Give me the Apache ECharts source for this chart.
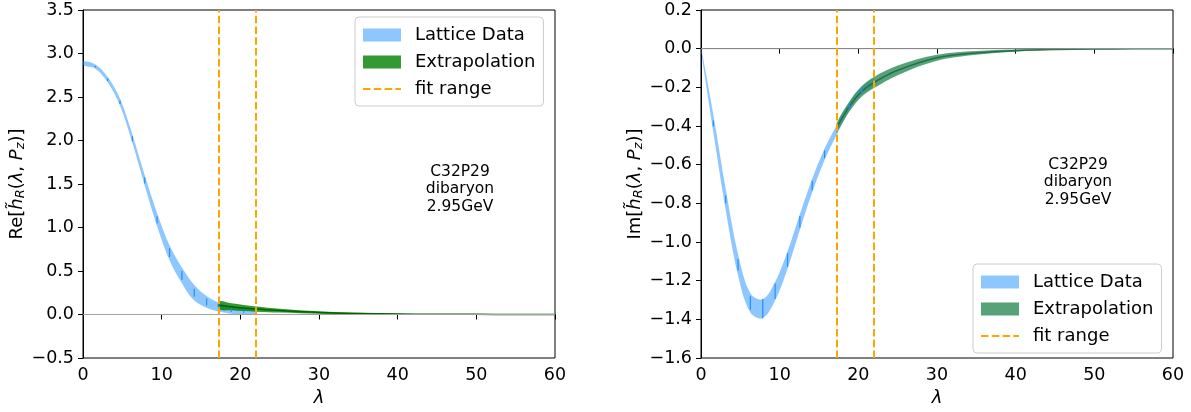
<!DOCTYPE html>
<html>
<head>
<meta charset="utf-8">
<script src="https://cdn.jsdelivr.net/npm/echarts@6/dist/echarts.min.js"></script>
<style>
  html, body { margin: 0; padding: 0; background: #fff; }
  #chart { width: 1191px; height: 412px; }
</style>
</head>
<body>
<div id="chart"></div>
<script>
// lattice points, lambda = n * pi/2
const lam = [0, 1.57, 3.14, 4.71, 6.28, 7.85, 9.42, 11.0, 12.57, 14.14, 15.71, 17.28, 18.85, 20.42, 21.99];
const reLat = [2.89, 2.85, 2.70, 2.44, 2.02, 1.54, 1.09, 0.71, 0.45, 0.25, 0.145, 0.085, 0.05, 0.035, 0.03];
const reBand = [0.022, 0.024, 0.03, 0.04, 0.05, 0.06, 0.075, 0.085, 0.09, 0.09, 0.067, 0.05, 0.04, 0.035, 0.03];
const reBar = [0, 0.01, 0.015, 0.02, 0.03, 0.035, 0.04, 0.05, 0.05, 0.045, 0.04, 0.03, 0.02, 0.015, 0.015];
const imLat = [0, -0.387, -0.78, -1.118, -1.315, -1.345, -1.255, -1.093, -0.896, -0.708, -0.546, -0.418, -0.298, -0.216, -0.175];
const imBand = [0.008, 0.045, 0.055, 0.055, 0.05, 0.049, 0.048, 0.045, 0.04, 0.035, 0.03, 0.025, 0.022, 0.02, 0.02];
const imBar = [0, 0.015, 0.02, 0.03, 0.035, 0.05, 0.04, 0.035, 0.03, 0.025, 0.02, 0.015, 0.015, 0.012, 0.012];

// extrapolation
const extLam = [17.28, 18.85, 20.42, 21.99, 25, 30, 35, 40, 45, 50, 55, 60];
const reExt = [0.105, 0.088, 0.074, 0.063, 0.045, 0.023, 0.012, 0.006, 0.003, 0.0015, 0.0008, 0.0004];
const reExtErr = [0.045, 0.04, 0.035, 0.03, 0.022, 0.015, 0.007, 0.004, 0.002, 0.001, 0.0006, 0.0003];
const imExt = [-0.405, -0.30, -0.222, -0.175, -0.112, -0.047, -0.022, -0.010, -0.0045, -0.002, -0.001, -0.0004];
const imExtErr = [0.022, 0.026, 0.027, 0.029, 0.025, 0.016, 0.010, 0.006, 0.003, 0.0015, 0.0008, 0.0004];

const fitRange = [17.28, 21.99];
const xTicks = [0, 60, 10];
const reTicks = [-0.5, 3.5, 0.5];
const imTicks = [-1.6, 0.2, 0.2];

const FONT = 'DejaVu Sans';
const BLUE = '#1e90ff';
const BLUE_FILL = 'rgba(30,144,255,0.5)';
const ORANGE = '#ffa500';
const DASH = [7.5, 3.3];

function fmt(v) {
  return v.toFixed(1).replace('-', '\u2212');
}

function xAxis(gi) {
  return {
    type: 'value', gridIndex: gi, min: xTicks[0], max: xTicks[1], interval: xTicks[2],
    name: 'λ', nameLocation: 'middle', nameGap: 31,
    nameTextStyle: { fontFamily: FONT, fontSize: 18, fontStyle: 'italic', color: '#000' },
    axisLine: { lineStyle: { color: '#000', width: 1 } },
    axisTick: { length: 5, lineStyle: { color: '#000' } },
    axisLabel: { fontFamily: FONT, fontSize: 17.5, color: '#000', margin: 8 },
    splitLine: { show: false }
  };
}

function yAxis(gi, ticks, pre) {
  return {
    type: 'value', gridIndex: gi, min: ticks[0], max: ticks[1], interval: ticks[2],
    name: pre + '[{i|h̃}{s|R}({i|λ}, {i|P}{s|z})]',
    nameLocation: 'middle', nameRotate: 90, nameGap: 52,
    nameTextStyle: {
      fontFamily: FONT, fontSize: 18, color: '#000',
      rich: {
        i: { fontFamily: FONT, fontSize: 18, fontStyle: 'italic', color: '#000' },
        s: { fontFamily: FONT, fontSize: 13, fontStyle: 'italic', color: '#000', padding: [8, 0, 0, 0] }
      }
    },
    axisLine: { show: true, onZero: false, lineStyle: { color: '#000', width: 1 } },
    axisTick: { show: true, length: 5, lineStyle: { color: '#000' } },
    axisLabel: { fontFamily: FONT, fontSize: 17.5, color: '#000', margin: 9, formatter: fmt },
    splitLine: { show: false }
  };
}

// filled band between lo and hi, drawn as one smoothed polygon
function bandSeries(gi, name, xs, mid, err, fill) {
  return {
    name: name, type: 'custom', xAxisIndex: gi, yAxisIndex: gi, silent: true,
    itemStyle: { color: fill },
    encode: { x: 0, y: [1, 2] },
    data: xs.map((x, i) => [x, mid[i] - err[i], mid[i] + err[i]]),
    renderItem: function (params, api) {
      if (params.dataIndex !== 0) return null;
      const up = xs.map((x, i) => api.coord([x, mid[i] + err[i]]));
      const lo = xs.map((x, i) => api.coord([x, mid[i] - err[i]])).reverse();
      return {
        type: 'polygon',
        shape: { points: up.concat(lo), smooth: 0.35 },
        style: { fill: fill, stroke: null }
      };
    }
  };
}

function midLine(gi, xs, mid, color) {
  return {
    name: 'mid' + gi, type: 'custom', xAxisIndex: gi, yAxisIndex: gi, silent: true,
    encode: { x: 0, y: 1 },
    data: xs.map((x, i) => [x, mid[i]]),
    renderItem: function (params, api) {
      if (params.dataIndex !== 0) return null;
      return {
        type: 'polyline',
        shape: { points: xs.map((x, i) => api.coord([x, mid[i]])), smooth: 0.35 },
        style: { stroke: color, lineWidth: 1.5, fill: null }
      };
    }
  };
}

function panel(gi, lat, band, bar, ext, extErr, extFill, extLine) {
  const s = [];
  s.push({
    name: 'zero' + gi, type: 'line', xAxisIndex: gi, yAxisIndex: gi, symbol: 'none', silent: true,
    data: [[xTicks[0], 0], [xTicks[1], 0]],
    lineStyle: { color: '#a0a0a0', width: 1 }
  });
  s.push(bandSeries(gi, 'Lattice Data', lam, lat, band, BLUE_FILL));
  s.push(bandSeries(gi, 'Extrapolation', extLam, ext, extErr, extFill));
  s.push(midLine(gi, extLam, ext, extLine));
  s.push({
    name: 'bars' + gi, type: 'custom', xAxisIndex: gi, yAxisIndex: gi, silent: true,
    encode: { x: 0, y: 1 },
    data: lam.map((x, i) => [x, lat[i], bar[i]]),
    renderItem: function (params, api) {
      const x = api.value(0), y = api.value(1), e = api.value(2);
      const p1 = api.coord([x, y - e]);
      const p2 = api.coord([x, y + e]);
      return {
        type: 'line',
        shape: { x1: p1[0], y1: p1[1], x2: p2[0], y2: p2[1] },
        style: { stroke: BLUE, lineWidth: 1.2 }
      };
    }
  });
  s.push({
    name: 'fit range', type: 'line', xAxisIndex: gi, yAxisIndex: gi, symbol: 'none', silent: true,
    data: [],
    lineStyle: { color: ORANGE, width: 2, type: DASH },
    itemStyle: { color: ORANGE },
    markLine: {
      silent: true, symbol: ['none', 'none'], label: { show: false },
      lineStyle: { color: ORANGE, width: 2, type: DASH },
      data: fitRange.map(v => ({ xAxis: v }))
    }
  });
  return s;
}

function legendAt(left, top, extFill) {
  return {
    orient: 'vertical', left: left, top: top,
    itemWidth: 38, itemHeight: 13, itemGap: 9,
    padding: [9, 8, 8, 7],
    borderColor: '#cccccc', borderWidth: 1, borderRadius: 4,
    backgroundColor: 'rgba(255,255,255,0.8)',
    selectedMode: false,
    formatter: '{t|{name}}',
    textStyle: {
      fontFamily: FONT, fontSize: 18, color: '#000',
      rich: { t: { fontFamily: FONT, fontSize: 18, color: '#000', padding: [0, 0, 0, 9] } }
    },
    data: [
      { name: 'Lattice Data', icon: 'rect', itemStyle: { color: BLUE_FILL } },
      { name: 'Extrapolation', icon: 'rect', itemStyle: { color: extFill } },
      {
        name: 'fit range',
        lineStyle: { color: ORANGE, width: 2, type: DASH },
        itemStyle: { color: 'rgba(0,0,0,0)', opacity: 0, borderWidth: 0 }
      }
    ]
  };
}

const label = 'C32P29\ndibaryon\n2.95GeV';

const chart = echarts.init(document.getElementById('chart'));
chart.setOption({
  animation: false,
  textStyle: { fontFamily: FONT },
  grid: [
    { left: 83, top: 10, width: 472, height: 351, show: true, borderColor: '#000', borderWidth: 1, backgroundColor: 'transparent' },
    { left: 701, top: 10, width: 472, height: 351, show: true, borderColor: '#000', borderWidth: 1, backgroundColor: 'transparent' }
  ],
  xAxis: [xAxis(0), xAxis(1)],
  yAxis: [yAxis(0, reTicks, 'Re'), yAxis(1, imTicks, 'Im')],
  legend: [
    legendAt(355, 17, 'rgba(0,128,0,0.8)'),
    legendAt(973, 264, 'rgba(46,139,87,0.8)')
  ],
  graphic: [
    { type: 'text', x: 460, y: 163, style: { text: label, font: '15.5px "DejaVu Sans"', fill: '#000', align: 'center', lineHeight: 17.5 } },
    { type: 'text', x: 1078, y: 156, style: { text: label, font: '15.5px "DejaVu Sans"', fill: '#000', align: 'center', lineHeight: 17.5 } }
  ],
  series: [].concat(
    panel(0, reLat, reBand, reBar, reExt, reExtErr, 'rgba(0,128,0,0.8)', '#006400'),
    panel(1, imLat, imBand, imBar, imExt, imExtErr, 'rgba(46,139,87,0.8)', '#23704a')
  )
});
</script>
</body>
</html>
